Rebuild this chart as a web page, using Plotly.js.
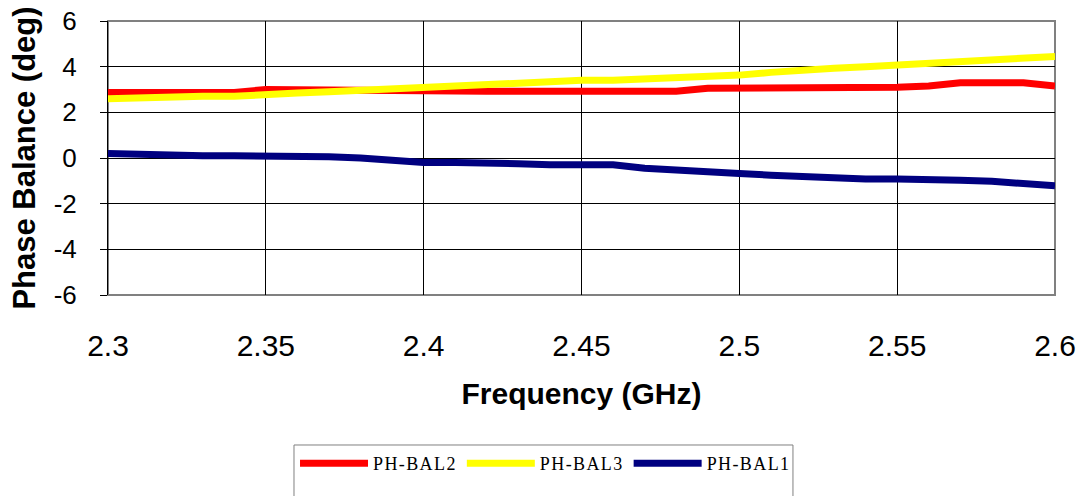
<!DOCTYPE html>
<html>
<head>
<meta charset="utf-8">
<script src="https://cdn.plot.ly/plotly-3.0.1.min.js"></script>
<style>html,body{margin:0;padding:0;background:#fff;}#chart{width:1081px;height:496px;}.legendtext{letter-spacing:1.4px;}</style>
</head>
<body>
<div id="chart"></div>
<script>
const frequency = [2.30,2.31,2.32,2.33,2.34,2.35,2.36,2.37,2.38,2.39,2.40,2.41,2.42,2.43,2.44,2.45,2.46,2.47,2.48,2.49,2.50,2.51,2.52,2.53,2.54,2.55,2.56,2.57,2.58,2.59,2.60];
const phBal2 = [2.87,2.87,2.87,2.87,2.87,3.0,2.98,2.97,2.95,2.93,2.92,2.92,2.92,2.92,2.92,2.92,2.92,2.92,2.92,3.05,3.05,3.05,3.05,3.05,3.05,3.1,3.15,3.3,3.3,3.3,3.15];
const phBal3 = [2.6,2.65,2.7,2.7,2.7,2.8,2.85,2.9,2.97,3.05,3.08,3.15,3.22,3.28,3.34,3.4,3.41,3.46,3.51,3.57,3.63,3.75,3.87,3.93,4.0,4.07,4.14,4.23,4.32,4.38,4.45];
const phBal1 = [0.2,0.15,0.1,0.1,0.1,0.1,0.1,0.05,0,-0.1,-0.2,-0.2,-0.2,-0.25,-0.3,-0.3,-0.3,-0.45,-0.55,-0.62,-0.68,-0.75,-0.82,-0.87,-0.92,-0.92,-0.92,-0.97,-1.02,-1.12,-1.22];
const seriesNames = ['PH-BAL2','PH-BAL3','PH-BAL1'];
const seriesColors = ['#FF0000','#FFFF00','#000080'];
const seriesValues = [phBal2, phBal3, phBal1];
const xTickVals = [2.3,2.35,2.4,2.45,2.5,2.55,2.6];
const xTickText = ['2.3','2.35','2.4','2.45','2.5','2.55','2.6'];
const yTickVals = [-6,-4,-2,0,2,4,6];
const yTickText = ['-6','-4','-2','0','2','4','6'];

const traces = seriesValues.map((v,i)=>({
  x: frequency, y: v, type:'scatter', mode:'lines', name: seriesNames[i],
  line:{color: seriesColors[i], width:7}
}));

const layout = {
  width:1081, height:496,
  margin:{l:108, r:26, t:21, b:201, autoexpand:false},
  paper_bgcolor:'#fff', plot_bgcolor:'#fff',
  font:{family:'Liberation Sans, Arial, sans-serif', color:'#000'},
  showlegend:true,
  legend:{orientation:'h', x:0.462, xanchor:'center', y:-0.5474, yanchor:'top',
    borderwidth:0, itemwidth:68, bgcolor:'rgba(0,0,0,0)',
    font:{family:'Liberation Serif, serif', size:18, color:'#000'}},
  xaxis:{range:[2.3,2.6], tickvals:xTickVals, ticktext:xTickText, showgrid:true, gridcolor:'#000', gridwidth:1,
    zeroline:false, showline:false, ticks:'', ticklabelstandoff:30,
    tickfont:{size:30}, title:{text:'<b>Frequency (GHz)</b>', font:{size:30}, standoff:21}},
  yaxis:{range:[-6,6], tickvals:yTickVals, ticktext:yTickText, showgrid:true, gridcolor:'#000', gridwidth:1,
    zeroline:false, showline:true, linecolor:'#000', linewidth:1, ticks:'outside', ticklen:7, tickcolor:'#000',
    ticklabelstandoff:18,
    tickfont:{size:26}, title:{text:'<b>Phase Balance (deg)</b>', font:{size:31}, standoff:8}},
  shapes:[
    {type:'rect', xref:'paper', yref:'paper', x0:0, x1:1, y0:0, y1:1,
      line:{color:'#808080', width:2}, layer:'below'},
    {type:'rect', xref:'paper', yref:'paper', x0:0.1964, x1:0.7233, y0:-0.785, y1:-0.5474,
      line:{color:'#808080', width:1}, fillcolor:'rgba(0,0,0,0)'}
  ]
};
Plotly.newPlot('chart', traces, layout, {displayModeBar:false, staticPlot:true});
</script>
</body>
</html>
